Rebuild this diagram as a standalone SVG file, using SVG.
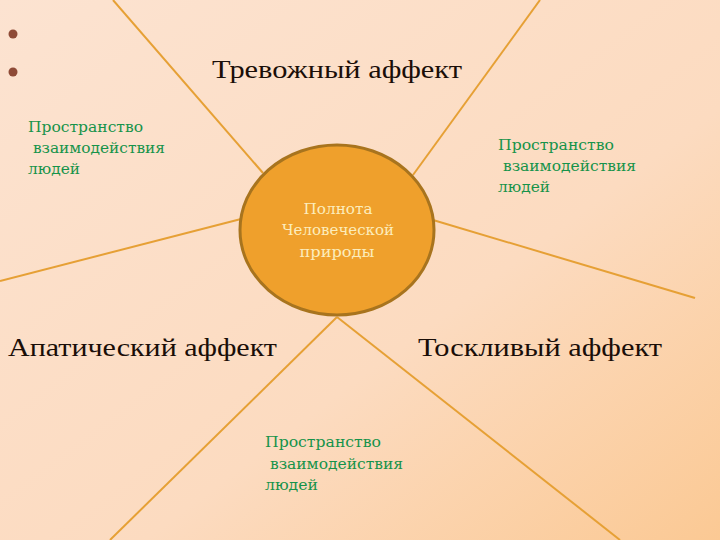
<svg xmlns="http://www.w3.org/2000/svg" width="720" height="540" viewBox="0 0 720 540">
  <defs>
    <linearGradient id="bg" x1="0" y1="0" x2="1" y2="1">
      <stop offset="0" stop-color="#FCE3D1"/>
      <stop offset="0.6" stop-color="#FCDBC0"/>
      <stop offset="1" stop-color="#FBC994"/>
    </linearGradient>
    <style>
      .ray { stroke: #E6A035; stroke-width: 2; fill: none; }
      .affect { font-family: "Liberation Serif", "DejaVu Serif", serif; font-size: 26px; fill: #1A0E08; }
      .space { font-family: "DejaVu Serif", "Liberation Serif", serif; font-size: 15px; fill: #16934A; }
      .core { font-family: "DejaVu Serif", "Liberation Serif", serif; font-size: 15px; fill: #FCEDBC; text-anchor: middle; }
      .bullet { fill: #8E4A36; }
    </style>
  </defs>
  <rect width="720" height="540" fill="url(#bg)"/>

  <g id="connectors">
    <line class="ray" x1="113" y1="0" x2="263" y2="173"/>
    <line class="ray" x1="540" y1="0" x2="413" y2="175"/>
    <line class="ray" x1="0" y1="281" x2="241" y2="219"/>
    <line class="ray" x1="433" y1="220" x2="695" y2="298"/>
    <line class="ray" x1="337" y1="317" x2="110" y2="540"/>
    <line class="ray" x1="337" y1="317" x2="620" y2="540"/>
  </g>

  <g id="bullets">
    <circle class="bullet" cx="13" cy="34" r="4.5"/>
    <circle class="bullet" cx="13" cy="72" r="4.5"/>
  </g>

  <g id="center">
    <ellipse cx="337" cy="230" rx="97" ry="85" fill="#EFA02C" stroke="#A8741E" stroke-width="3"/>
    <text class="core" x="338" y="214" textLength="69" lengthAdjust="spacingAndGlyphs">Полнота</text>
    <text class="core" x="338" y="235" textLength="112" lengthAdjust="spacingAndGlyphs">Человеческой</text>
    <text class="core" x="337" y="257" textLength="75" lengthAdjust="spacingAndGlyphs">природы</text>
  </g>

  <g id="anxious">
    <text class="affect" x="212" y="78" textLength="250" lengthAdjust="spacingAndGlyphs">Тревожный аффект</text>
  </g>
  <g id="apathetic">
    <text class="affect" x="8" y="356" textLength="269" lengthAdjust="spacingAndGlyphs">Апатический аффект</text>
  </g>
  <g id="melancholy">
    <text class="affect" x="418" y="356" textLength="244" lengthAdjust="spacingAndGlyphs">Тоскливый аффект</text>
  </g>

  <g id="space-left">
    <text class="space" x="28" y="132" textLength="115" lengthAdjust="spacingAndGlyphs">Пространство</text>
    <text class="space" x="28" y="153" textLength="137" lengthAdjust="spacingAndGlyphs" xml:space="preserve"> взаимодействия</text>
    <text class="space" x="28" y="174" textLength="52" lengthAdjust="spacingAndGlyphs">людей</text>
  </g>
  <g id="space-right">
    <text class="space" x="498" y="150" textLength="116" lengthAdjust="spacingAndGlyphs">Пространство</text>
    <text class="space" x="498" y="171" textLength="138" lengthAdjust="spacingAndGlyphs" xml:space="preserve"> взаимодействия</text>
    <text class="space" x="498" y="192" textLength="52" lengthAdjust="spacingAndGlyphs">людей</text>
  </g>
  <g id="space-bottom">
    <text class="space" x="265" y="447" textLength="116" lengthAdjust="spacingAndGlyphs">Пространство</text>
    <text class="space" x="265" y="469" textLength="138" lengthAdjust="spacingAndGlyphs" xml:space="preserve"> взаимодействия</text>
    <text class="space" x="265" y="490" textLength="53" lengthAdjust="spacingAndGlyphs">людей</text>
  </g>
</svg>
